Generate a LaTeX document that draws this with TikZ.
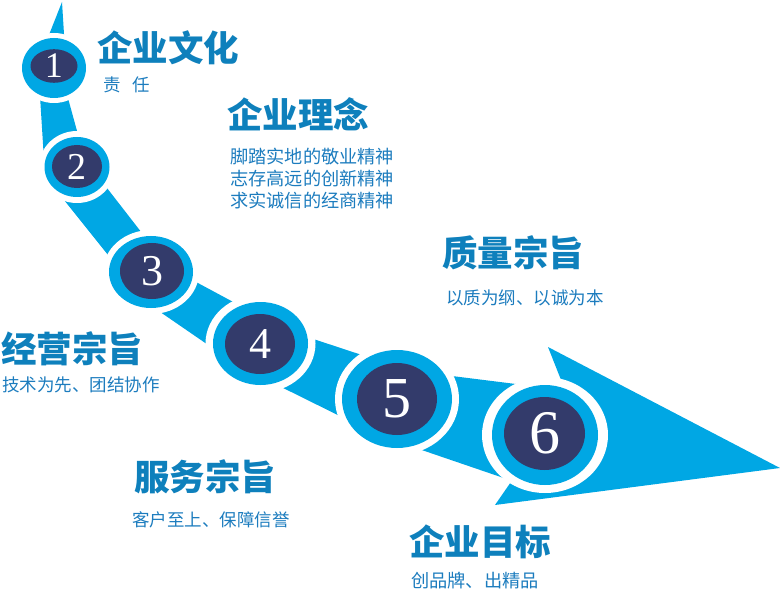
\documentclass[tikz,border=0pt]{standalone}
\usepackage{fontspec}
\usetikzlibrary{shapes.geometric}
\newfontfamily\cjk{Noto Sans CJK SC}
\newfontfamily\numfont{Liberation Serif}
\definecolor{bandblue}{RGB}{0,167,228}
\definecolor{discnavy}{RGB}{51,59,107}
\definecolor{titleblue}{RGB}{14,128,188}
\definecolor{textblue}{RGB}{28,124,190}
\tikzset{every picture/.style={line width=0.75pt},
	band/.style={fill=bandblue},
	halo/.style={fill=white},
	ring/.style={fill=bandblue},
	disc/.style={ellipse, fill=discnavy, text=white, inner sep=0pt},
	title/.style={anchor=base west, inner sep=0pt, text=titleblue, font=\cjk\bfseries\fontsize{35.5}{35.5}\selectfont},
	motto/.style={anchor=base west, inner sep=0pt, text=textblue, align=left, font=\cjk\fontsize{17.5}{22}\selectfont}}

\begin{document}
\begin{tikzpicture}[x=1pt,y=1pt,yscale=-1,xscale=1]
	\useasboundingbox (0,0) rectangle (780,591);
	
	%Band segments
	\fill[band] (62,2) -- (65,50) -- (43,50) -- cycle;
	\fill[band] (39,80) -- (63,80) -- (85,160) -- (44,160) -- cycle;
	\fill[band] (52,185) -- (93,170) -- (159,255) -- (120,270) -- cycle;
	\fill[band] (170,268) -- (250,311) -- (230,360) -- (150,305) -- cycle;
	\fill[band] (280,328) -- (380,361) -- (370,431) -- (265,379) -- cycle;
	\fill[band] (420,372) -- (540,387) -- (530,487) -- (410,446) -- cycle;
	%Arrow head
	\fill[band] (548,347) -- (780,468) -- (495,505) -- (540,440) -- (565,390) -- cycle;
	
	%Step 1
	\coordinate (s1) at (54,68);
	\fill[halo] (s1) ellipse (37 and 35);
	\fill[ring] (s1) ellipse (32 and 30);
	\node[disc, minimum width=47, minimum height=33, font=\numfont\fontsize{36}{36}\selectfont] (n1) at (54,66) {1};
	%Step 2
	\coordinate (s2) at (77,167);
	\fill[halo] (s2) ellipse (38 and 36);
	\fill[ring] (s2) ellipse (32.5 and 30);
	\node[disc, minimum width=50, minimum height=43, font=\numfont\fontsize{38}{38}\selectfont] (n2) at (77,166.5) {2};
	%Step 3
	\coordinate (s3) at (151,272);
	\fill[halo] (s3) ellipse (48 and 42);
	\fill[ring] (s3) ellipse (42 and 36);
	\node[disc, minimum width=64, minimum height=56, font=\numfont\fontsize{44}{44}\selectfont] (n3) at (152,271) {3};
	%Step 4
	\coordinate (s4) at (260.5,343.5);
	\fill[halo] (s4) ellipse (55 and 49);
	\fill[ring] (s4) ellipse (47.5 and 41.5);
	\node[disc, minimum width=70, minimum height=60, font=\numfont\fontsize{44}{44}\selectfont] (n4) at (260,344) {4};
	%Step 5
	\coordinate (s5) at (397,399);
	\fill[halo] (s5) ellipse (62 and 56);
	\fill[ring] (s5) ellipse (55 and 49);
	\node[disc, minimum width=80, minimum height=72, font=\numfont\fontsize{58}{58}\selectfont] (n5) at (397,399) {5};
	%Step 6
	\coordinate (s6) at (545,435);
	\fill[halo] (s6) ellipse (63 and 58);
	\fill[ring] (s6) ellipse (53 and 50);
	\node[disc, minimum width=81, minimum height=73, font=\numfont\fontsize{62}{62}\selectfont] (n6) at (544.5,433.5) {6};
	
	% Text Node
	\node[title] (t1) at (97,62) {企业文化};
	\node[motto] (m1) at (103,92) {责\hspace{12pt}任};
	% Text Node
	\node[title] (t2) at (227,129) {企业理念};
	\node[motto, anchor=north west, font=\cjk\fontsize{18.2}{22}\selectfont] (m2) at (230,148) {脚踏实地的敬业精神\\志存高远的创新精神\\求实诚信的经商精神};
	% Text Node
	\node[title] (t3) at (442,266) {质量宗旨};
	\node[motto] (m3) at (446,305) {以质为纲、以诚为本};
	% Text Node
	\node[title] (t4) at (1,362) {经营宗旨};
	\node[motto] (m4) at (2,391) {技术为先、团结协作};
	% Text Node
	\node[title] (t5) at (134,490) {服务宗旨};
	\node[motto] (m5) at (132,526) {客户至上、保障信誉};
	% Text Node
	\node[title] (t6) at (409,555) {企业目标};
	\node[motto, font=\cjk\fontsize{18.2}{22}\selectfont] (m6) at (411,587) {创品牌、出精品};
	
\end{tikzpicture}
\end{document}
